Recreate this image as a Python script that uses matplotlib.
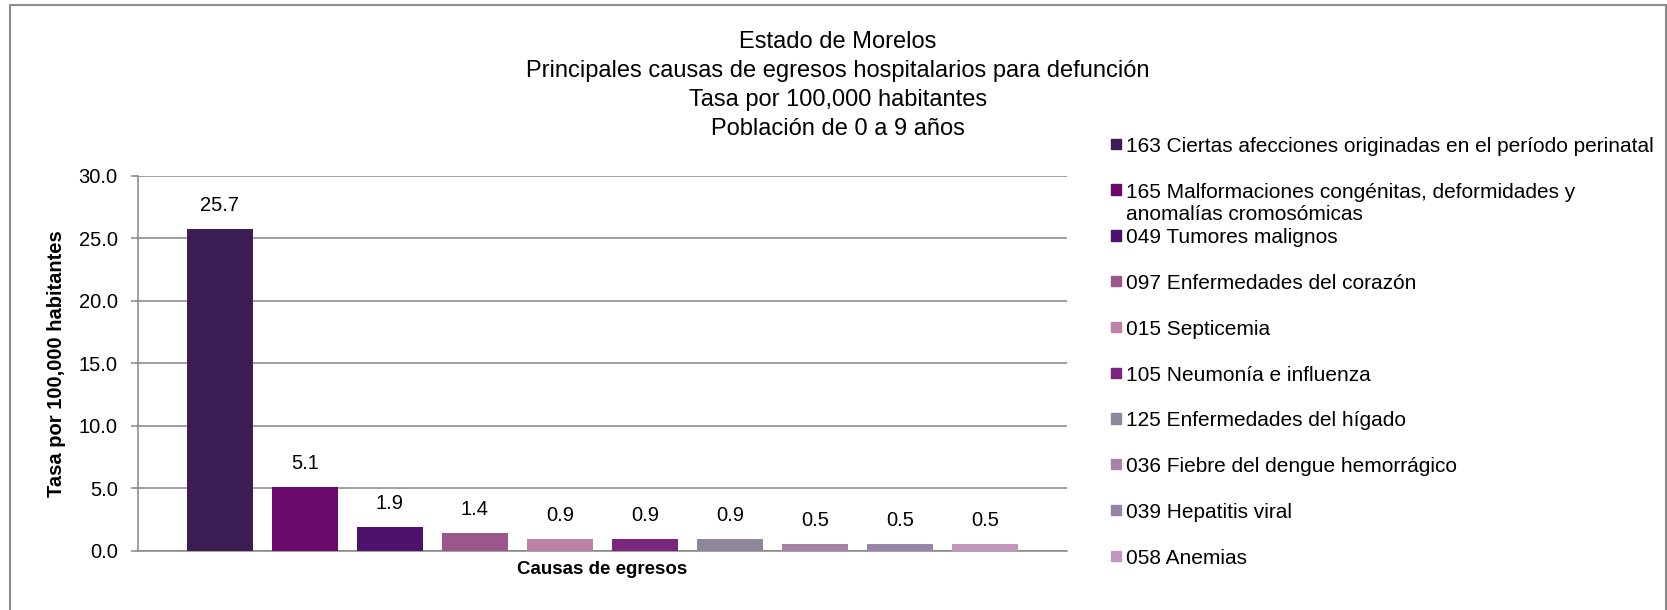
import numpy as np
import matplotlib
matplotlib.use("Agg")
import matplotlib.pyplot as plt
from matplotlib.patches import Rectangle
from matplotlib.ticker import FormatStrFormatter

plt.rcParams['font.family'] = ['Liberation Sans', 'DejaVu Sans']

# datos
causas = ["163 Ciertas afecciones originadas en el período perinatal",
          "165 Malformaciones congénitas, deformidades y\nanomalías cromosómicas",
          "049 Tumores malignos",
          "097 Enfermedades del corazón",
          "015 Septicemia",
          "105 Neumonía e influenza",
          "125 Enfermedades del hígado",
          "036 Fiebre del dengue hemorrágico",
          "039 Hepatitis viral",
          "058 Anemias"]
tasas = [25.7, 5.1, 1.9, 1.4, 0.9, 0.9, 0.9, 0.5, 0.5, 0.5]
colores = ['#3B1C53', '#6B086B', '#4E126C', '#9B568C', '#BC82A8',
           '#7A267C', '#8E869A', '#A882A7', '#9583A8', '#C498BE']
titulo = ["Estado de Morelos",
          "Principales causas de egresos hospitalarios para defunción",
          "Tasa por 100,000 habitantes",
          "Población de 0 a 9 años"]

W, H = 1667, 610
gris = '#868686'

fig = plt.figure(figsize=(W / 100, H / 100), dpi=100)
ax = fig.add_axes([137.5 / W, (H - 550.7) / H, (1067 - 137.5) / W, 375 / H])

x = np.arange(len(tasas))
ax.bar(x, tasas, width=0.77, color=colores, zorder=3)
for i, v in enumerate(tasas):
    ax.annotate(f'{v:.1f}', (i, v), xytext=(0, 17), textcoords='offset points',
                ha='center', va='center', fontsize=14.5)

ax.set_xlim(-0.97, 9.965)
ax.set_ylim(0, 30)
ax.set_yticks(np.arange(0, 30.1, 5))
ax.yaxis.set_major_formatter(FormatStrFormatter('%.1f'))
ax.set_xticks([])
ax.grid(axis='y', color=gris, lw=1.1)
ax.set_axisbelow(True)
for s in ['top', 'right']:
    ax.spines[s].set_visible(False)
for s in ['left', 'bottom']:
    ax.spines[s].set_color(gris)
    ax.spines[s].set_linewidth(1.1)
ax.tick_params(axis='y', length=4.8, width=1.1, color=gris, pad=9.4, labelsize=14.5)

ax.set_ylabel("Tasa por 100,000 habitantes", fontsize=14.5, fontweight='bold', va='center')
ax.yaxis.set_label_coords((56 - 137.5) / 929.5, 0.5)
ax.set_xlabel("Causas de egresos", fontsize=13.5, fontweight='bold', va='center')
ax.xaxis.set_label_coords(0.5, (550.7 - 570) / 375)

# titulo
for k, linea in enumerate(titulo):
    yc = [42.5, 71.2, 100, 128.6][k]
    fig.text(838 / W, 1 - yc / H, linea, ha='center', va='center', fontsize=17)

# leyenda a mano (estilo Excel)
for i, (lab, c) in enumerate(zip(causas, colores)):
    yc = 143.7 + i * 45.8
    fig.patches.append(Rectangle((1110.7 / W, 1 - (yc + 5.2) / H), 10.3 / W, 10.3 / H,
                                 transform=fig.transFigure, color=c))
    for j, parte in enumerate(lab.split('\n')):
        fig.text(1126 / W, 1 - (yc + 8 + j * 22.5) / H, parte, ha='left',
                 va='baseline', fontsize=15)

# marco
fig.patches.append(Rectangle((10 / W, -0.05), (1666 - 10) / W, 1.05 - 5 / H,
                             transform=fig.transFigure, fill=False,
                             edgecolor='#8c8c8c', lw=1.5, clip_on=False))

fig.savefig('out.png', dpi=100)
